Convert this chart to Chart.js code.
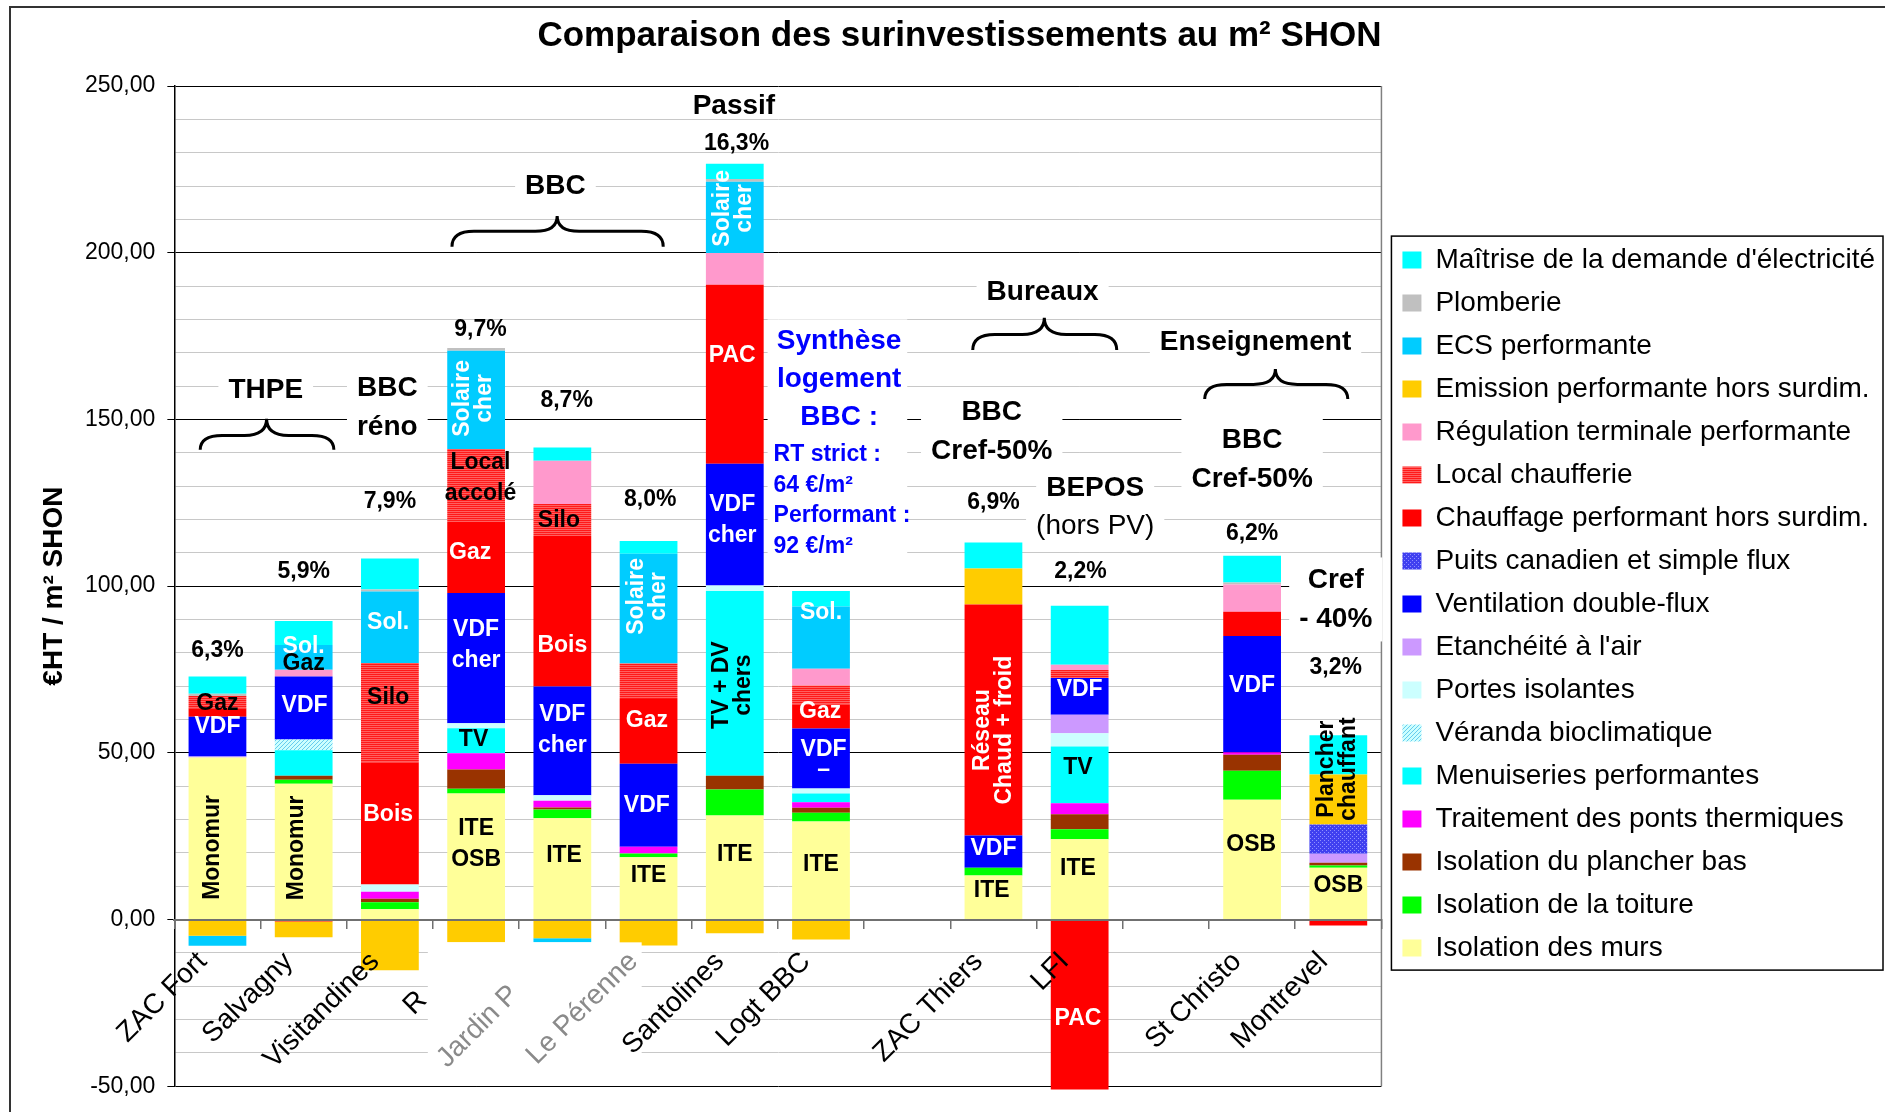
<!DOCTYPE html>
<html>
<head>
<meta charset="utf-8">
<script src="https://cdn.jsdelivr.net/npm/chart.js@4.4.1/dist/chart.umd.min.js"></script>
<style>
  html, body { margin: 0; padding: 0; background: #fff; }
</style>
</head>
<body>
<canvas id="chart" width="1885" height="1112"></canvas>
<script>
/**
 * Comparaison des surinvestissements au m² SHON - stacked bars
 */
const FONT = '"Liberation Sans", Arial, Helvetica, sans-serif';
const NB = '\u00a0';

// categories (two empty slots act as gaps between groups)
const projects = ['ZAC Fort', 'Salvagny', 'Visitandines', 'R' + NB.repeat(7), 'Jardin P' + NB.repeat(6),
    'Le Pérenne', 'Santolines', 'Logt BBC', '', 'ZAC Thiers', 'LFI', '', 'St Christo', 'Montrevel'];

// €HT / m² SHON per item, one value per project (bottom of stack first)
const murs        = [48.6, 40.7, 3.1, 37.8, 30.4, 18.7, 31.2, 29.4, 0, 13.2, 24.1, 0, 35.9, 15.5];
const toiture     = [0, 1.2, 2.1, 1.4, 2.6, 1.1, 7.8, 2.6, 0, 2.3, 3.0, 0, 8.7, 0.7];
const plancher    = [0, 1.2, 1.0, 5.8, 0.6, 0, 4.1, 1.5, 0, 0, 4.5, 0, 4.8, 0.8];
const ponts       = [0, 0, 2.1, 4.9, 2.0, 2.0, 0, 1.7, 0, 0, 3.3, 0, 0.8, 0];
const menuiseries = [0, 7.7, 0, 7.5, 0, 0, 55.4, 2.6, 0, 0, 17.0, 0, 0, 0];
const veranda     = [0, 3.2, 0, 0, 0, 0, 0, 0, 0, 0, 0, 0, 0, 0];
const portes      = [0, 0, 2.2, 1.5, 1.7, 0, 1.7, 1.5, 0, 0, 4.0, 0, 0, 0];
const etancheite  = [0.3, 0, 0, 0, 0, 0, 0, 0, 0, 0, 5.5, 0, 0, 2.7];
const vdf         = [11.9, 18.9, 0, 39.0, 32.6, 24.9, 36.5, 18.0, 0, 9.7, 11.0, 0, 34.8, 0];
const puits       = [0, 0, 0, 0, 0, 0, 0, 0, 0, 0, 0, 0, 0, 8.8];
const chauffage   = [2.4, -0.6, 36.6, 21.3, 45.1, 19.4, 53.7, 7.2, 0, 69.3, -51, 0, 7.3, -1.8];
const local       = [3.8, 0, 29.8, 21.9, 9.6, 10.7, 0, 5.7, 0, 0, 2.4, 0, 0, 0];
const regulation  = [0, 2.0, 0, 0, 13.0, 0, 9.5, 5.0, 0, 0, 1.6, 0, 8.2, 0];
const emission    = [-4.9, -4.7, -15.2, -6.8, -5.6, -7.8, -4.1, -6.0, 0, 10.8, 0, 0, 0, 15.0];
const ecs         = [-3.0, 7.4, 21.5, 29.5, -1.2, 32.9, 21.4, 18.7, 0, 0, 0, 0, 0, 0];
const plomberie   = [0.7, 0, 0.6, 0.8, 0, 0, 0.8, 0, 0, 0, 0, 0, 0.6, 0];
const maitrise    = [5.2, 7.2, 9.3, 0, 4.0, 3.8, 4.6, 4.6, 0, 7.8, 17.7, 0, 8.0, 11.8];

// surinvestissement in % above each bar
const pctLabels = ['6,3%', '5,9%', '7,9%', '9,7%', '8,7%', '8,0%', '16,3%', '', '', '6,9%', '2,2%', '', '6,2%', '3,2%'];
const pctPos = [[0, 80.7], [1, 104.4], [2, 125.2], [3.05, 176.8], [4.05, 155.6], [5.02, 125.8], [6.02, 232.8],
    null, null, [9, 125], [10.01, 104.3], null, [12, 115.7], [12.97, 75.4]];

// labels written inside the bars: text, slot, value, colour, rotated
const barTexts = [
    ['Gaz', 0, 64.7, 'k'], ['VDF', 0, 57.9, 'w'], ['Monomur', -0.05, 21.6, 'k', 1],
    ['Sol.', 1, 81.7, 'w'], ['Gaz', 1, 76.6, 'k'], ['VDF', 1.01, 64.2, 'w'], ['Monomur', 0.92, 21.5, 'k', 1],
    ['Sol.', 1.98, 88.9, 'w'], ['Silo', 1.98, 66.6, 'k'], ['Bois', 1.98, 31.4, 'w'],
    [['Solaire', 'cher'], 2.97, 156.3, 'w', 1], [['Local', 'accolé'], 3.05, 132.4, 'k'], ['Gaz', 2.93, 110, 'w'],
    [['VDF', 'cher'], 3.0, 82.2, 'w'], ['TV', 2.97, 53.9, 'k'], [['ITE', 'OSB'], 3.0, 22.5, 'k'],
    ['Silo', 3.96, 119.6, 'k'], ['Bois', 4.0, 82.1, 'w'], [['VDF', 'cher'], 4.0, 56.7, 'w'], ['ITE', 4.02, 19, 'k'],
    [['Solaire', 'cher'], 4.99, 96.9, 'w', 1], ['Gaz', 4.98, 59.6, 'w'], ['VDF', 4.98, 34.1, 'w'], ['ITE', 5.0, 13.2, 'k'],
    [['Solaire', 'cher'], 5.99, 213.3, 'w', 1], ['PAC', 5.97, 169.2, 'w'], [['VDF', 'cher'], 5.97, 119.7, 'w'],
    [['TV + DV', 'chers'], 5.97, 70.3, 'k', 1], ['ITE', 6.0, 19.3, 'k'],
    ['Sol.', 7.0, 92, 'w'], ['Gaz', 6.99, 62.4, 'w'], ['VDF', 7.03, 50.8, 'w'], ['–', 7.03, 44.8, 'w'], ['ITE', 7.0, 16.5, 'k'],
    [['Réseau', 'Chaud + froid'], 9.0, 56.8, 'w', 1], ['VDF', 9.0, 21.1, 'w'], ['ITE', 8.98, 8.6, 'k'],
    ['VDF', 10.0, 69, 'w'], ['TV', 9.98, 45.4, 'k'], ['ITE', 9.98, 15.3, 'k'], ['PAC', 9.98, -29.6, 'w'],
    ['VDF', 12.0, 70, 'w'], ['OSB', 11.99, 22.3, 'k'],
    [['Plancher', 'chauffant'], 12.99, 45.1, 'k', 1], ['OSB', 13.0, 10.3, 'k']
];

// group / type notes (text, slot, value, weight, white box behind)
const notes = [
    [['THPE'], 0.56, 158.7, 'bold', 1], [['BBC', 'réno'], 1.97, 153.5, 'bold', 1], [['BBC'], 3.92, 219.8, 'bold', 1],
    [['Passif'], 5.99, 243.8, 'bold', 0], [['Bureaux'], 9.57, 188, 'bold', 1], [['Enseignement'], 12.04, 173, 'bold', 1],
    [['BBC', 'Cref-50%'], 8.98, 146.4, 'bold', 1], [['BEPOS'], 10.18, 129.2, 'bold', 1],
    [['(hors PV)'], 10.18, 117.8, 'normal', 1], [['BBC', 'Cref-50%'], 12.0, 137.8, 'bold', 1],
    [['Cref', '- 40%'], 12.97, 96, 'bold', 1]
];
const synthTitle = ['Synthèse', 'logement', 'BBC :'];
const synthLines = ['RT strict :', '64 €/m²', 'Performant :', '92 €/m²'];

// braces: left slot, right slot, peak slot, end value, bar value, peak value
const braces = [
    [-0.2, 1.35, 0.57, 140.9, 145.2, 150.2],
    [2.72, 5.17, 3.94, 201.8, 206.4, 211],
    [8.76, 10.43, 9.59, 170.8, 175.5, 180.5],
    [11.45, 13.11, 12.27, 156.1, 160.5, 165.1]
];

const canvas = document.getElementById('chart');
const mainCtx = canvas.getContext('2d');

function pattern(base, ink, kind) {
    const c = document.createElement('canvas');
    c.width = 4; c.height = 4;
    const g = c.getContext('2d');
    g.fillStyle = base; g.fillRect(0, 0, 4, 4);
    g.fillStyle = ink;
    if (kind === 'h') { g.fillRect(0, 0, 4, 1); g.fillRect(0, 2, 4, 1); }
    else if (kind === 'd') { for (let i = 0; i < 4; i++) g.fillRect(i, 3 - i, 1, 1); }
    else { g.fillRect(0, 0, 1, 1); g.fillRect(2, 2, 1, 1); }
    return mainCtx.createPattern(c, 'repeat');
}

const series = [
    ['Isolation des murs', murs, '#FFFF99'],
    ['Isolation de la toiture', toiture, '#00FF00'],
    ['Isolation du plancher bas', plancher, '#993300'],
    ['Traitement des ponts thermiques', ponts, '#FF00FF'],
    ['Menuiseries performantes', menuiseries, '#00FFFF'],
    ['Véranda bioclimatique', veranda, pattern('#CCFFFF', '#66CCEE', 'd')],
    ['Portes isolantes', portes, '#CCFFFF'],
    ["Etanchéité à l'air", etancheite, '#CC99FF'],
    ['Ventilation double-flux', vdf, '#0000FF'],
    ['Puits canadien et simple flux', puits, pattern('#4040F0', '#9090FF', 'p')],
    ['Chauffage performant hors surdim.', chauffage, '#FF0000'],
    ['Local chaufferie', local, pattern('#FF6060', '#FF1A1A', 'h')],
    ['Régulation terminale performante', regulation, '#FF99CC'],
    ['Emission performante hors surdim.', emission, '#FFCC00'],
    ['ECS performante', ecs, '#00CCFF'],
    ['Plomberie', plomberie, '#C0C0C0'],
    ["Maîtrise de la demande d'électricité", maitrise, '#00FFFF']
];

function at(chart, slot, val) {
    return [chart.scales.x.getPixelForValue(slot), chart.scales.y.getPixelForValue(val)];
}

function drawLines(ctx, lines, x, y, o) {
    ctx.save();
    ctx.font = (o.weight || 'bold') + ' ' + o.size + 'px ' + FONT;
    ctx.fillStyle = o.color || '#000';
    ctx.textAlign = o.align || 'center';
    ctx.textBaseline = 'middle';
    ctx.translate(x, y);
    if (o.rot) ctx.rotate(-Math.PI / 2);
    const n = lines.length;
    lines.forEach((l, i) => ctx.fillText(l, 0, (i - (n - 1) / 2) * o.lh));
    ctx.restore();
}

function whiteBox(ctx, lines, x, y, o) {
    ctx.save();
    ctx.font = (o.weight || 'bold') + ' ' + o.size + 'px ' + FONT;
    const w = Math.max(...lines.map(l => ctx.measureText(l).width));
    const h = lines.length * o.lh;
    ctx.fillStyle = '#fff';
    ctx.fillRect(x - w / 2 - 10, y - h / 2 - 3, w + 20, h + 6);
    ctx.restore();
}

const deco = {
    id: 'deco',
    afterLayout(chart) {
        if (chart.legend) { chart.legend.left += 6; chart.legend.right += 6; }
    },
    beforeDatasetsDraw(chart) {
        const { ctx, chartArea: a } = chart;
        ctx.save();
        ctx.strokeStyle = '#808080';
        ctx.lineWidth = 1.5;
        ctx.beginPath(); ctx.moveTo(a.right, a.top); ctx.lineTo(a.right, a.bottom); ctx.stroke();
        ctx.restore();
        notes.forEach(([lines, s, v, w, box]) => {
            if (!box) return;
            const [x, y] = at(chart, s, v);
            whiteBox(ctx, lines, x, y, { size: 28, lh: 39, weight: w });
        });
        // synthesis box
        const [x0, y0] = at(chart, 6.45, 180);
        const [x1, y1] = at(chart, 8.0, 106);
        ctx.fillStyle = '#fff';
        ctx.fillRect(x0 - 6, y0, x1 - x0 + 6, y1 - y0);
    },
    afterDatasetsDraw(chart) {
        const { ctx } = chart;
        // braces
        braces.forEach(([s0, s1, sc, vEnd, vMid, vPeak]) => {
            const [xa, yEnd] = at(chart, s0, vEnd);
            const [xb, yMid] = at(chart, s1, vMid);
            const [xc, yPeak] = at(chart, sc, vPeak);
            const r = 22;
            ctx.save();
            ctx.strokeStyle = '#000'; ctx.lineWidth = 3;
            ctx.beginPath();
            ctx.moveTo(xa, yEnd);
            ctx.quadraticCurveTo(xa, yMid, xa + r, yMid);
            ctx.lineTo(xc - r, yMid);
            ctx.quadraticCurveTo(xc, yMid, xc, yPeak);
            ctx.quadraticCurveTo(xc, yMid, xc + r, yMid);
            ctx.lineTo(xb - r, yMid);
            ctx.quadraticCurveTo(xb, yMid, xb, yEnd);
            ctx.stroke();
            ctx.restore();
        });
        notes.forEach(([lines, s, v, w]) => {
            const [x, y] = at(chart, s, v);
            drawLines(ctx, lines, x, y, { size: 28, lh: 39, weight: w });
        });
        pctLabels.forEach((t, i) => {
            if (!t) return;
            const [x, y] = at(chart, pctPos[i][0], pctPos[i][1]);
            drawLines(ctx, [t], x, y, { size: 23, lh: 26 });
        });
        barTexts.forEach(([t, s, v, c, rot]) => {
            const [x, y] = at(chart, s, v);
            const lines = Array.isArray(t) ? t : [t];
            drawLines(ctx, lines, x, y, { size: 23, lh: rot ? 22 : 31, rot: !!rot, color: c === 'w' ? '#fff' : '#000' });
        });
        let [sx, sy] = at(chart, 7.21, 162);
        drawLines(ctx, synthTitle, sx, sy, { size: 28, lh: 38, color: '#0000FF' });
        [sx, sy] = at(chart, 6.45, 125.65);
        drawLines(ctx, synthLines, sx, sy, { size: 23, lh: 30.5, color: '#0000FF', align: 'left' });
        // text box lying over part of the project names
        const [fx0, fy0] = at(chart, 2.44, -6.85);
        const [fx1, fy1] = at(chart, 4.92, -43.5);
        ctx.fillStyle = '#fff';
        ctx.fillRect(fx0, fy0, fx1 - fx0, fy1 - fy0);
    },
    afterDraw(chart) {
        const { ctx } = chart;
        ctx.save();
        // legend frame
        const hb = chart.legend.legendHitBoxes;
        if (hb && hb.length) {
            const l = Math.min(...hb.map(h => h.left)) - 11;
            const t = Math.min(...hb.map(h => h.top)) - 10;
            const r = Math.max(...hb.map(h => h.left + h.width)) + 8;
            const b = Math.max(...hb.map(h => h.top + h.height)) + 8;
            ctx.strokeStyle = '#000'; ctx.lineWidth = 1.5;
            ctx.strokeRect(l, t, r - l, b - t);
        }
        // outer frame
        ctx.strokeStyle = '#333'; ctx.lineWidth = 2;
        ctx.strokeRect(10, 7, 1900, 1200);
        ctx.restore();
    }
};

new Chart(canvas, {
    type: 'bar',
    data: {
        labels: projects,
        datasets: series.map(([label, data, color]) => ({
            label,
            data,
            backgroundColor: color,
            borderWidth: 0,
            barPercentage: 0.67,
            categoryPercentage: 1,
            clip: false
        }))
    },
    options: {
        responsive: false,
        animation: false,
        events: [],
        layout: { padding: { left: 40, right: 6, top: 0, bottom: 21 } },
        plugins: {
            title: {
                display: true,
                text: 'Comparaison des surinvestissements au m² SHON',
                color: '#000',
                font: { family: FONT, size: 35, weight: 'bold', lineHeight: 1.2 },
                padding: { top: 15, bottom: 29 }
            },
            legend: {
                position: 'right',
                fullSize: false,
                reverse: true,
                maxWidth: 620,
                title: { display: true, text: '', padding: 0, font: { size: 36, lineHeight: 1 } },
                labels: {
                    boxWidth: 19,
                    boxHeight: 17,
                    padding: 15,
                    color: '#000',
                    font: { family: FONT, size: 28 }
                }
            },
            tooltip: { enabled: false }
        },
        scales: {
            x: {
                stacked: true,
                position: { y: 0 },
                offset: true,
                grid: { drawOnChartArea: false, drawTicks: true, tickLength: 8, color: '#707070', tickColor: '#707070', lineWidth: 1.5, z: 1 },
                border: { display: true, color: '#707070', width: 2, z: 1 },
                ticks: {
                    autoSkip: false,
                    minRotation: 45,
                    maxRotation: 45,
                    padding: 18,
                    labelOffset: -15,
                    color: c => (c.index === 4 || c.index === 5 ? '#8A8A8A' : '#000'),
                    font: { family: FONT, size: 28 },
                    z: 1
                }
            },
            y: {
                stacked: true,
                min: -50,
                max: 250,
                ticks: {
                    stepSize: 10,
                    autoSkip: false,
                    padding: 12,
                    color: '#000',
                    font: { family: FONT, size: 23 },
                    callback: v => (v % 50 === 0 ? v.toFixed(2).replace('.', ',') : '')
                },
                grid: {
                    color: c => (c.tick.value === 0 ? '#707070' : c.tick.value % 50 === 0 ? '#000' : '#C8C8C8'),
                    tickColor: c => (c.tick.value % 50 === 0 ? '#000' : 'rgba(0,0,0,0)'),
                    tickLength: 7,
                    lineWidth: 1
                },
                border: { color: '#000', width: 1.5 },
                title: {
                    display: true,
                    text: '€HT / m² SHON',
                    color: '#000',
                    font: { family: FONT, size: 28, weight: 'bold', lineHeight: 1 },
                    padding: { top: 0, bottom: 5 }
                }
            }
        }
    },
    plugins: [deco]
});
</script>
</body>
</html>
